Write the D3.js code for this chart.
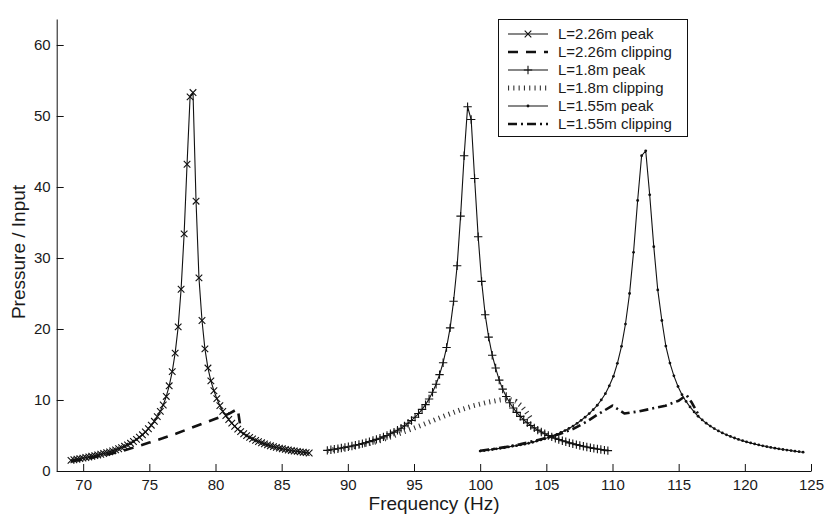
<!DOCTYPE html>
<html><head><meta charset="utf-8">
<script src="https://cdn.jsdelivr.net/npm/d3@7"></script>
<style>
body{margin:0;background:#fff;}
svg{display:block;background:#fff;}
text{font-family:"Liberation Sans",Arial,Helvetica,sans-serif;fill:#1a1a1a;}
</style></head><body>
<svg id="chart" width="825" height="516"></svg>
<script>
const xTicks=[70,75,80,85,90,95,100,105,110,115,120,125];
const yTicks=[0,10,20,30,40,50,60];

const freq226Peak=[69.08,69.3,69.53,69.75,69.98,70.2,70.43,70.65,70.88,71.1,71.33,71.55,71.78,72.0,72.23,72.45,72.68,72.9,73.13,73.35,73.58,73.8,74.03,74.25,74.48,74.7,74.93,75.15,75.38,75.6,75.83,76.05,76.28,76.5,76.73,76.95,77.18,77.4,77.63,77.85,78.08,78.3,78.53,78.75,78.98,79.2,79.43,79.65,79.88,80.1,80.33,80.55,80.78,81.0,81.23,81.45,81.68,81.9,82.13,82.35,82.58,82.8,83.03,83.25,83.48,83.7,83.93,84.15,84.38,84.6,84.83,85.05,85.28,85.5,85.73,85.95,86.18,86.4,86.63,86.85,87.08];
const val226Peak=[1.5,1.58,1.66,1.74,1.82,1.9,1.98,2.07,2.16,2.26,2.36,2.47,2.58,2.7,2.84,2.98,3.13,3.3,3.48,3.68,3.9,4.15,4.45,4.75,5.1,5.5,5.95,6.45,7.0,7.65,8.4,9.3,10.5,12.0,14.0,16.6,20.3,25.6,33.4,43.2,52.7,53.3,38.0,27.2,21.2,17.2,14.5,12.7,11.3,10.2,9.2,8.4,7.8,7.25,6.75,6.3,5.9,5.55,5.25,4.98,4.74,4.52,4.32,4.14,3.97,3.82,3.68,3.55,3.43,3.32,3.22,3.13,3.04,2.96,2.89,2.82,2.76,2.7,2.64,2.59,2.54];

const freq226Clip=[69.08,70,71,72,73,74,75,76,77,78,79,80,81,81.68,81.9];
const val226Clip=[1.4,1.65,2.0,2.4,2.85,3.4,4.0,4.6,5.25,5.95,6.65,7.35,8.05,8.75,6.0];

const freq18Peak=[88.45,88.72,88.98,89.25,89.51,89.78,90.04,90.31,90.57,90.84,91.1,91.37,91.63,91.9,92.16,92.43,92.69,92.96,93.22,93.49,93.75,94.02,94.28,94.55,94.81,95.08,95.34,95.61,95.87,96.14,96.4,96.67,96.93,97.2,97.46,97.73,97.99,98.26,98.52,98.79,99.05,99.32,99.58,99.85,100.11,100.38,100.64,100.91,101.17,101.44,101.7,101.97,102.23,102.5,102.76,103.03,103.29,103.56,103.82,104.09,104.35,104.62,104.88,105.15,105.41,105.68,105.94,106.21,106.47,106.74,107.0,107.27,107.53,107.8,108.06,108.33,108.59,108.86,109.12,109.39,109.65];
const val18Peak=[2.91,2.99,3.06,3.14,3.23,3.32,3.42,3.52,3.63,3.74,3.86,4.0,4.14,4.29,4.45,4.62,4.81,5.01,5.24,5.48,5.74,6.03,6.36,6.72,7.12,7.58,8.09,8.68,9.35,10.15,11.09,12.21,13.57,15.25,17.39,20.16,23.9,28.9,35.9,44.4,51.3,49.5,41.2,33.0,26.7,22.0,18.86,16.31,14.5,12.8,11.53,10.49,9.62,8.88,8.25,7.7,7.21,6.79,6.41,6.07,5.76,5.49,5.24,5.01,4.8,4.61,4.43,4.26,4.11,3.96,3.83,3.71,3.59,3.48,3.38,3.28,3.19,3.1,3.02,2.94,2.87];

const freq18Clip=[88.45,89.5,90.5,91.5,92.5,93.5,94.5,95.5,96.5,97.5,98.5,99.5,100.5,101.5,102.2,102.7,103.1,103.5,103.8];
const val18Clip=[2.9,3.15,3.45,3.8,4.3,5.0,5.7,6.4,7.15,7.9,8.6,9.2,9.65,10.0,10.1,9.8,9.2,8.3,7.5];

const freq155Peak=[100.0,100.31,100.61,100.92,101.22,101.53,101.83,102.14,102.44,102.75,103.05,103.36,103.66,103.97,104.27,104.58,104.88,105.19,105.49,105.8,106.1,106.41,106.71,107.02,107.32,107.63,107.93,108.24,108.54,108.85,109.15,109.46,109.76,110.07,110.37,110.68,110.98,111.29,111.59,111.9,112.2,112.51,112.81,113.12,113.42,113.73,114.03,114.34,114.64,114.95,115.25,115.56,115.86,116.17,116.47,116.78,117.08,117.39,117.69,118.0,118.3,118.61,118.91,119.22,119.52,119.83,120.13,120.44,120.74,121.05,121.35,121.66,121.96,122.27,122.57,122.88,123.18,123.49,123.79,124.1,124.4];
const val155Peak=[2.81,2.88,2.95,3.03,3.12,3.2,3.29,3.39,3.5,3.57,3.68,3.78,3.91,4.05,4.21,4.37,4.54,4.74,4.94,5.17,5.42,5.69,5.99,6.33,6.71,7.14,7.58,8.09,8.64,9.26,10.01,10.89,12.0,13.34,15.17,17.56,20.7,25.0,30.8,38.1,44.4,45.1,38.9,31.6,25.5,21.2,17.6,15.2,13.4,11.9,10.75,9.8,9.02,8.32,7.71,7.19,6.73,6.33,5.97,5.65,5.36,5.1,4.87,4.65,4.45,4.27,4.1,3.95,3.81,3.67,3.55,3.43,3.32,3.22,3.12,3.03,2.95,2.87,2.79,2.72,2.65];

const freq155Clip=[100.0,101,102,103,104,105,106,107,108,109,110.0,110.9,112,113,114,115,115.6,116.0,116.5];
const val155Clip=[2.85,3.1,3.4,3.75,4.2,4.65,5.2,5.9,6.9,8.1,9.2,8.1,8.4,8.8,9.2,9.9,10.7,9.6,7.9];

const legendLabels=["L=2.26m peak","L=2.26m clipping","L=1.8m peak","L=1.8m clipping","L=1.55m peak","L=1.55m clipping"];

const svg=d3.select("#chart");
const x=d3.scaleLinear().domain([68,125]).range([56.7,811]);
const y=d3.scaleLinear().domain([0,63.66]).range([471,19]);
const ink="#111";

const xAxis=svg.append("g").attr("transform","translate(0,471)")
  .call(d3.axisBottom(x).tickValues(xTicks).tickSizeInner(-7).tickSizeOuter(0).tickPadding(8).tickFormat(d3.format("d")));
const yAxis=svg.append("g").attr("transform","translate(56.7,0)")
  .call(d3.axisLeft(y).tickValues(yTicks).tickSizeInner(-7).tickSizeOuter(0).tickPadding(6).tickFormat(d3.format("d")));
[xAxis,yAxis].forEach(a=>{
  a.selectAll("path,line").attr("stroke",ink).attr("stroke-width",1);
  a.selectAll("text").attr("font-size","15px").attr("font-family","Liberation Sans, Arial, sans-serif").attr("fill","#1a1a1a");
});

svg.append("text").attr("x",434).attr("y",510).attr("text-anchor","middle")
  .attr("font-size","19px").text("Frequency (Hz)");
svg.append("text").attr("transform","translate(25,252) rotate(-90)").attr("text-anchor","middle")
  .attr("font-size","19px").text("Pressure / Input");

const line=d3.line().x(d=>x(d[0])).y(d=>y(d[1]));
const plot=svg.append("g");

const styles=[
  {f:freq226Peak,v:val226Peak,w:1.1,dash:null,marker:"x"},
  {f:freq226Clip,v:val226Clip,w:2.6,dash:"10,8",marker:null},
  {f:freq18Peak,v:val18Peak,w:1.1,dash:null,marker:"+"},
  {f:freq18Clip,v:val18Clip,w:5,dash:"1.1,4.2",marker:null,color:"#333"},
  {f:freq155Peak,v:val155Peak,w:1.1,dash:null,marker:"."},
  {f:freq155Clip,v:val155Clip,w:2.6,dash:"9,4,2,4",marker:null}
];

const markerPath={
  "x":"M-3.3,-3.3L3.3,3.3M-3.3,3.3L3.3,-3.3",
  "+":"M-4.2,0H4.2M0,-4.2V4.2"
};

function drawMarkers(g,type,pts){
  if(type==="."){
    g.selectAll("circle.m").data(pts).join("circle").attr("class","m")
      .attr("cx",d=>d[0]).attr("cy",d=>d[1]).attr("r",1.4).attr("fill",ink);
  }else{
    g.selectAll("path.m").data(pts).join("path").attr("class","m")
      .attr("transform",d=>`translate(${d[0]},${d[1]})`)
      .attr("d",markerPath[type]).attr("stroke",ink).attr("stroke-width",1.1).attr("fill","none");
  }
}

styles.forEach(s=>{
  const data=d3.zip(s.f,s.v);
  const p=plot.append("path").datum(data).attr("d",line).attr("fill","none")
    .attr("stroke",s.color||ink).attr("stroke-width",s.w).attr("stroke-linejoin","round");
  if(s.dash) p.attr("stroke-dasharray",s.dash);
  if(s.marker){
    const g=plot.append("g");
    drawMarkers(g,s.marker,data.map(d=>[x(d[0]),y(d[1])]));
  }
});

const lg=svg.append("g");
lg.append("rect").attr("x",498.5).attr("y",19.5).attr("width",189).attr("height",117)
  .attr("fill","#fff").attr("stroke",ink).attr("stroke-width",1);
legendLabels.forEach((lab,i)=>{
  const s=styles[i];
  const cy=34+18*i;
  const l=lg.append("line").attr("x1",508).attr("x2",548).attr("y1",cy).attr("y2",cy)
    .attr("stroke",s.color||ink).attr("stroke-width",s.w);
  if(s.dash) l.attr("stroke-dasharray",s.dash);
  if(s.marker){ const g=lg.append("g"); drawMarkers(g,s.marker,[[528,cy]]); }
  lg.append("text").attr("x",558).attr("y",cy).attr("dy","0.35em")
    .attr("font-size","15px").text(lab);
});
</script>
</body></html>
